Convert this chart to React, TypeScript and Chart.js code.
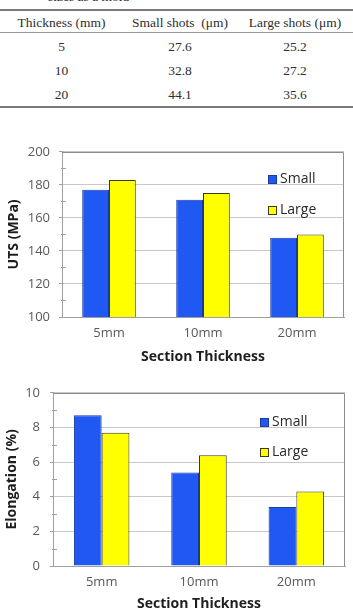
import React, { useEffect, useRef } from "react";
import { Chart, registerables } from "chart.js";
Chart.register(...registerables);

const categories = ["5mm", "10mm", "20mm"];
const seriesNames = ["Small", "Large"];
const utsSmall = [177, 171, 148];
const utsLarge = [183, 175, 150];
const elongSmall = [8.7, 5.4, 3.4];
const elongLarge = [7.7, 6.4, 4.3];

const tableCaption = "sizes as a mold";
const tableHeader = ["Thickness (mm)", "Small shots  (\u03bcm)", "Large shots (\u03bcm)"];
const tableThickness = ["5", "10", "20"];
const tableSmall = ["27.6", "32.8", "44.1"];
const tableLarge = ["25.2", "27.2", "35.6"];

const BLUE = "#1f58f2";
const BLUE_EDGE = "#1b3b9c";
const YELLOW = "#ffff00";
const YELLOW_EDGE = "#3c3c1a";
const FONT = "'Open Sans', 'Noto Sans', sans-serif";

const decorPlugin = {
  id: "decor",
  afterDraw(chart: any, _args: any, opts: any) {
    const { ctx, chartArea: a, scales } = chart;
    const y = scales.y;
    ctx.save();
    ctx.lineWidth = 1;
    ctx.strokeStyle = "#a0a0a0";
    const step = opts.minorStep;
    for (let v = y.min + step; v < y.max; v += 2 * step) {
      const py = Math.round(y.getPixelForValue(v)) + 0.5;
      ctx.beginPath();
      ctx.moveTo(a.left - 1, py);
      ctx.lineTo(a.left + 4, py);
      ctx.stroke();
    }
    ctx.strokeStyle = "#8c8c8c";
    ctx.beginPath();
    ctx.moveTo(a.left, Math.round(a.top) + 0.5);
    ctx.lineTo(Math.round(a.right) - 0.5, Math.round(a.top) + 0.5);
    ctx.lineTo(Math.round(a.right) - 0.5, a.bottom);
    ctx.stroke();
    chart.data.datasets.forEach((d: any, i: number) => {
      const cy = Math.round(a.top + opts.legendTop + i * opts.legendGap);
      const bx = Math.round(a.right - opts.legendRight);
      ctx.fillStyle = d.backgroundColor;
      ctx.fillRect(bx, cy - 4, 9, 9);
      ctx.strokeStyle = d.borderColor;
      ctx.strokeRect(bx + 0.5, cy - 3.5, 8, 8);
      ctx.fillStyle = "#2a2a2a";
      ctx.font = "14px " + FONT;
      ctx.textBaseline = "middle";
      ctx.textAlign = "left";
      ctx.fillText(d.label, bx + 12, cy);
    });
    ctx.restore();
  },
};

function BarChart(p: any) {
  const ref = useRef<HTMLCanvasElement>(null);
  useEffect(() => {
    const chart = new Chart(ref.current as HTMLCanvasElement, {
      type: "bar",
      data: {
        labels: categories,
        datasets: [
          { label: seriesNames[0], data: p.small, backgroundColor: BLUE, borderColor: BLUE_EDGE, borderWidth: 1 },
          { label: seriesNames[1], data: p.large, backgroundColor: YELLOW, borderColor: YELLOW_EDGE, borderWidth: 1 },
        ],
      },
      plugins: [decorPlugin],
      options: {
        animation: false,
        responsive: false,
        devicePixelRatio: 1,
        datasets: { bar: { categoryPercentage: 0.57, barPercentage: 1 } },
        layout: { padding: { top: p.topPad, right: p.rightPad, left: 0, bottom: 0 } },
        plugins: {
          legend: { display: false },
          tooltip: { enabled: false },
          decor: { minorStep: p.step / 2, legendTop: p.legendTop, legendGap: p.legendGap, legendRight: p.legendRight },
        } as any,
        scales: {
          x: {
            grid: { display: false, drawTicks: false },
            border: { color: "#a0a0a0" },
            ticks: { color: "#595959", font: { family: FONT, size: 13 }, padding: 8 },
            title: { display: true, text: "Section Thickness", color: "#1e1e1e", font: { family: FONT, size: 14, weight: "bold" }, padding: { top: 0, bottom: 0 } },
            afterFit: (s: any) => { s.height = p.xHeight; },
          },
          y: {
            min: p.yMin,
            max: p.yMax,
            ticks: { stepSize: p.step, color: "#595959", font: { family: FONT, size: 13 }, padding: p.tickPad },
            grid: { color: "#c8c8c8", tickLength: 3, tickColor: "#a0a0a0" },
            border: { color: "#a0a0a0" },
            title: { display: true, text: p.yTitle, color: "#1e1e1e", font: { family: FONT, size: 14, weight: "bold" }, padding: { top: p.titlePad, bottom: 0 } },
            afterFit: (s: any) => { s.width = p.yWidth; },
          },
        },
      } as any,
    });
    return () => chart.destroy();
  }, []);
  return (
    <div style={{ position: "absolute", left: 0, top: p.top, width: 353, height: p.height }}>
      <canvas ref={ref} width={353} height={p.height} style={{ display: "block", width: 353, height: p.height }} />
    </div>
  );
}

const colCenters = [61.5, 180, 295];

function Cell({ x, y, text }: any) {
  return (
    <div style={{ position: "absolute", left: x - 80, top: y - 10, width: 160, height: 20, lineHeight: "20px", textAlign: "center", whiteSpace: "pre" }}>
      {text}
    </div>
  );
}

export default function App() {
  const rowYs = [46.5, 70.5, 94.5];
  return (
    <div style={{ position: "absolute", left: 0, top: 0, width: 353, height: 612, overflow: "hidden", background: "#fff" }}>
      <div style={{ position: "absolute", left: 0, top: 0, width: 353, height: 112, fontFamily: "'Liberation Serif', 'DejaVu Serif', serif", fontSize: 13.5, color: "#2e2e2e" }}>
        <div style={{ position: "absolute", left: 48, top: -11, whiteSpace: "pre", lineHeight: "16px" }}>{tableCaption}</div>
        <div style={{ position: "absolute", left: 0, top: 9, width: 353, height: 2, background: "#7a7a7a" }} />
        <div style={{ position: "absolute", left: 0, top: 32, width: 353, height: 1, background: "#9a9a9a" }} />
        <div style={{ position: "absolute", left: 0, top: 106, width: 353, height: 2, background: "#7a7a7a" }} />
        {tableHeader.map((t, i) => <Cell key={"h" + i} x={colCenters[i]} y={22.5} text={t} />)}
        {tableThickness.map((t, r) => (
          <React.Fragment key={"r" + r}>
            <Cell x={colCenters[0]} y={rowYs[r]} text={t} />
            <Cell x={colCenters[1]} y={rowYs[r]} text={tableSmall[r]} />
            <Cell x={colCenters[2]} y={rowYs[r]} text={tableLarge[r]} />
          </React.Fragment>
        ))}
      </div>
      <BarChart top={135} height={230} small={utsSmall} large={utsLarge} yMin={100} yMax={200} step={20}
        yTitle="UTS (MPa)" yWidth={62} tickPad={9} titlePad={6} topPad={8} rightPad={9} xHeight={48}
        legendTop={27} legendGap={31} legendRight={76} />
      <BarChart top={375} height={237} small={elongSmall} large={elongLarge} yMin={0} yMax={10} step={2}
        yTitle="Elongation (%)" yWidth={53} tickPad={10} titlePad={4} topPad={7.5} rightPad={8} xHeight={46}
        legendTop={29} legendGap={30} legendRight={85} />
    </div>
  );
}
